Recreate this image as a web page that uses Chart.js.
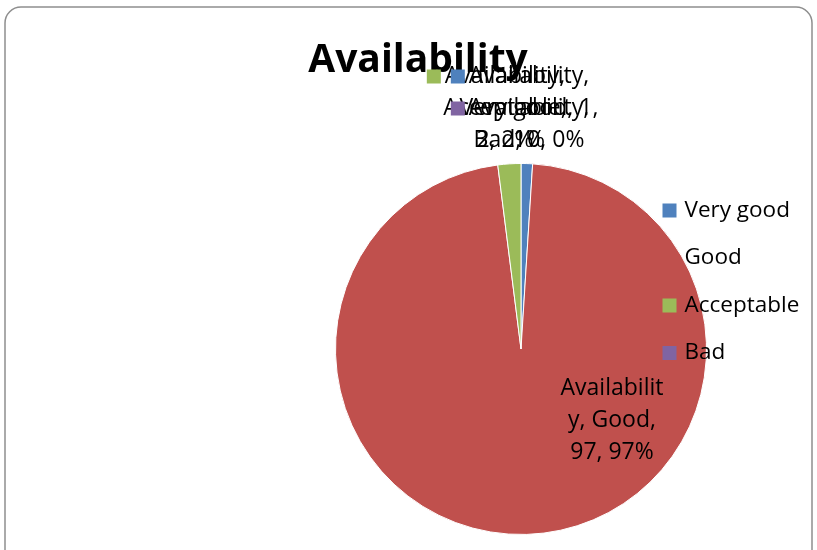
<!DOCTYPE html>
<html>
<head>
<meta charset="utf-8">
<script src="https://cdn.jsdelivr.net/npm/chart.js@4"></script>
<style>
  html, body { margin: 0; padding: 0; background: #fff; }
  #wrap { width: 817px; height: 550px; }
</style>
</head>
<body>
<div id="wrap"><canvas id="myChart" width="817" height="550"></canvas></div>
<script>
// data
var seriesName = 'Availability';
var categories = ['Very good', 'Good', 'Acceptable', 'Bad'];
var values = [1, 97, 2, 0];
var percents = ['1%', '97%', '2%', '0%'];
// how the data labels wrap in the picture
var labelLines = [
    ['Availability,', 'Very good, 1,', '1%'],
    ['Availabilit', 'y, Good,', '97, 97%'],
    ['Availability,', 'Acceptable,', '2, 2%'],
    ['Availability,', 'Bad, 0, 0%']
];

var colors = ['#4F81BD', '#C0504D', '#9BBB59', '#8064A2'];
var legendColors = ['#4F81BD', 'rgba(0,0,0,0)', '#9BBB59', '#8064A2'];
var font = '"Open Sans", "DejaVu Sans", sans-serif';

// frame, title, legend and data labels drawn on the canvas
var decor = {
    id: 'decor',
    beforeDraw: function(chart) {
        var ctx = chart.ctx;
        ctx.save();
        ctx.strokeStyle = '#8e8e8e';
        ctx.lineWidth = 1.5;
        ctx.beginPath();
        ctx.roundRect(5, 7, 807, 560, 16);
        ctx.stroke();
        ctx.restore();
    },
    afterDraw: function(chart) {
        var ctx = chart.ctx;
        var meta = chart.getDatasetMeta(0);
        var arc0 = meta.data[0];
        var cx = arc0.x, cy = arc0.y, r = arc0.outerRadius;
        var top = cy - r;
        ctx.save();

        // title
        ctx.fillStyle = '#000';
        ctx.font = 'bold 39px ' + font;
        ctx.textAlign = 'center';
        ctx.textBaseline = 'alphabetic';
        ctx.fillText(seriesName, cx - 103, top - 92);

        // legend
        ctx.font = '22.5px ' + font;
        ctx.textAlign = 'left';
        ctx.textBaseline = 'middle';
        var lx = cx + r - 44;
        for (var i = 0; i < categories.length; i++) {
            var ly = top + 47 + i * 47.5;
            ctx.fillStyle = legendColors[i];
            ctx.fillRect(lx, ly - 7, 14, 14);
            ctx.fillStyle = '#000';
            ctx.fillText(categories[i], lx + 22, ly);
        }

        // data labels: small slices above the pie, big slice inside
        ctx.font = '23px ' + font;
        var lh = 32;
        var place = [
            {x: cx + 8, y: top - 87, line: 0},
            {x: cx + 91, y: cy + 39, line: 0},
            {x: cx - 16, y: top - 87, line: 0},
            {x: cx + 8, y: top - 87, line: 1}
        ];
        ctx.textAlign = 'center';
        var order = [1, 2, 0, 3];
        order.forEach(function(i) {
            var p = place[i];
            var lines = labelLines[i];
            ctx.fillStyle = '#000';
            lines.forEach(function(t, k) {
                ctx.fillText(t, p.x, p.y + (p.line + k) * lh);
            });
            if (i !== 1) {
                var w = ctx.measureText(lines[0]).width;
                ctx.fillStyle = colors[i];
                ctx.fillRect(p.x - w / 2 - 18, p.y + p.line * lh - 7, 14, 14);
            }
        });
        ctx.restore();
    }
};

document.addEventListener('DOMContentLoaded', function() {
    var myChart = document.getElementById('myChart');
    new Chart(myChart, {
        type: 'pie',
        data: {
            labels: categories,
            datasets: [{
                label: seriesName,
                data: values,
                backgroundColor: colors,
                borderColor: '#ffffff',
                borderWidth: 1
            }]
        },
        options: {
            responsive: false,
            animation: false,
            layout: {padding: {left: 335, top: 163, right: 110, bottom: 15}},
            plugins: {
                legend: {display: false},
                title: {display: false},
                tooltip: {enabled: false}
            }
        },
        plugins: [decor]
    });
});
</script>
</body>
</html>
